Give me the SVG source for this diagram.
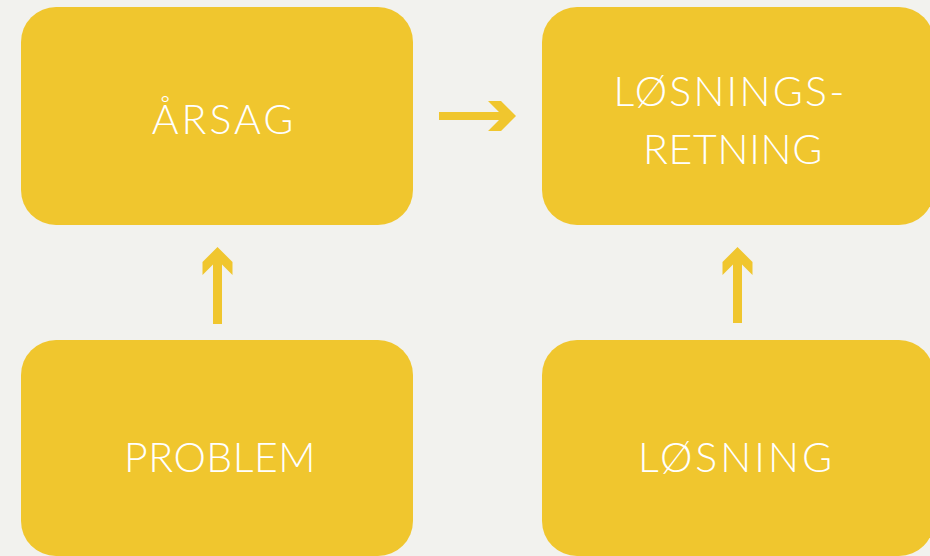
<svg xmlns="http://www.w3.org/2000/svg" width="930" height="556" viewBox="0 0 930 556">
<style>
.box{fill:#F0C62E}
.lbl{font-family:Lato,"Open Sans","DejaVu Sans",sans-serif;font-weight:300;font-size:41px;fill:#ffffff;letter-spacing:1.5px;text-anchor:middle}
.arr{fill:#F0C62E}
</style>
<rect width="930" height="556" fill="#F2F2EE"/>
<g id="node-arsag">
<rect class="box" x="21" y="7" width="392" height="218" rx="35"/>
<text class="lbl" x="224" y="134" style="letter-spacing:3px">ÅRSAG</text>
</g>
<g id="node-losningsretning">
<rect class="box" x="542" y="7" width="392" height="218" rx="35"/>
<text class="lbl" x="730" y="106" style="letter-spacing:2.2px">LØSNINGS-</text>
<text class="lbl" x="733" y="164" style="letter-spacing:0.7px">RETNING</text>
</g>
<g id="node-problem">
<rect class="box" x="21" y="340" width="392" height="216" rx="35"/>
<text class="lbl" x="220" y="472" style="letter-spacing:0.5px">PROBLEM</text>
</g>
<g id="node-losning">
<rect class="box" x="542" y="340" width="392" height="216" rx="35"/>
<text class="lbl" x="736.5" y="472" style="letter-spacing:3px">LØSNING</text>
</g>
<g id="connectors">
<polygon class="arr" points="439,112 499,112 488,101 501,101 516,116 501,131 488,131 499,120 439,120"/>
<polygon class="arr" points="213,324 213,264.5 202.5,275 202.5,262 217.5,247 232.5,262 232.5,275 222,264.5 222,324"/>
<polygon class="arr" points="733,323 733,264.5 722.5,275 722.5,262 737.5,247 752.5,262 752.5,275 742,264.5 742,323"/>
</g>
</svg>
